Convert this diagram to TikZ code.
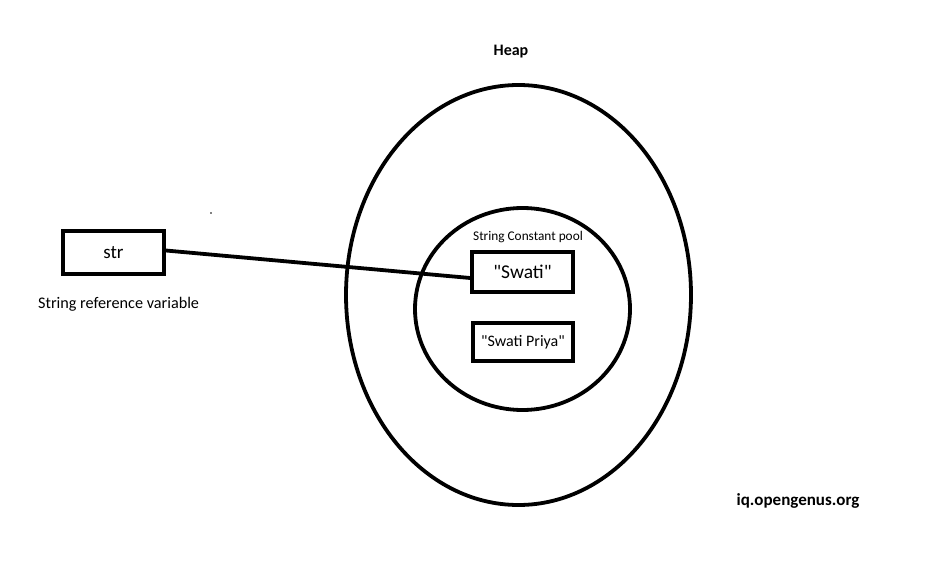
\documentclass[tikz,border=0pt]{standalone}
\usepackage{fontspec}
\setmainfont{Carlito}[Ligatures=TeXOff]
\newcommand{\dq}{\symbol{34}}
\begin{document}
\begin{tikzpicture}[x=1pt,y=-1pt,
  thick line/.style={line width=3.8pt},
  box/.style={draw,line width=3.8pt,inner sep=0pt,minimum width=#1},
  lbl/.style={inner sep=0pt}]
\useasboundingbox (0,0) rectangle (933,569);
\fill[white] (0,0) rectangle (933,569);
% outer heap ellipse
\draw[thick line] (518.5,295) ellipse [x radius=172.5, y radius=210];
% inner pool circle
\draw[thick line] (522.5,309) ellipse [x radius=107.5, y radius=101];
% boxes
\node[box=101pt,minimum height=43pt,font=\fontsize{19}{21}\selectfont] (str) at (113.5,252.5) {str};
\node[box=101pt,minimum height=40pt,font=\fontsize{19.5}{21}\selectfont] (swati) at (522.5,272) {\dq Swati\dq};
\node[box=100pt,minimum height=38pt,font=\fontsize{16}{18}\selectfont] (priya) at (523,342) {\dq Swati Priya\dq};
% connector
\coordinate (a) at ([yshift=2pt]str.east);
\coordinate (b) at ([yshift=-6pt]swati.west);
\draw[thick line] (a) -- (b);
% labels
\node[lbl,font=\fontsize{13.3}{15}\selectfont] (pool) at (528,237) {String Constant pool};
\node[lbl,anchor=west,font=\fontsize{16.2}{18}\selectfont] (ref) at (38,304) {String reference variable};
\node[lbl,font=\bfseries\fontsize{16}{18}\selectfont] (heap) at (511,52) {Heap};
\node[lbl,font=\bfseries\fontsize{17}{19}\selectfont] (site) at (798,501) {iq.opengenus.org};
\fill (211,213) circle (0.8pt);
\end{tikzpicture}
\end{document}
